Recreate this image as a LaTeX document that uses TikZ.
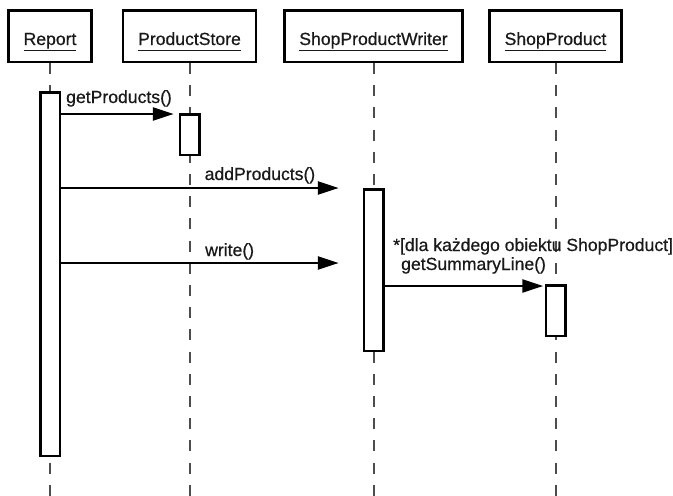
\documentclass[tikz,border=0pt]{standalone}
\usepackage{fontspec}
\setmainfont{Liberation Sans}[FakeBold=0.6]
\usetikzlibrary{arrows.meta}

\newcommand{\underobj}[1]{\setbox0\hbox{#1}\rlap{\copy0}\rule[-6pt]{\wd0}{1.3pt}}

\begin{document}
\begin{tikzpicture}[x=1pt, y=-1pt,
    every node/.style={font=\fontsize{17.6}{19}\selectfont, text=black!90},
    head/.style={draw, line width=2.5pt, inner xsep=15pt, inner ysep=0pt, minimum height=51.5pt, text height=24pt, text depth=6pt},
    act/.style={draw, line width=2.5pt, fill=white, inner sep=0pt, minimum width=19.5pt},
    life/.style={line width=2pt, black!70, dash pattern=on 11pt off 11.2pt},
    msg/.style={line width=2.5pt, -{Triangle[length=21pt, width=13pt]}},
    lbl/.style={anchor=base west, inner sep=0pt}]

            \useasboundingbox (0,0) rectangle (673,496);

            \node[head] (report) at (50,36) {\underobj{Report}};
            \node[head] (store) at (189.5,36) {\underobj{ProductStore}};
            \node[head] (writer) at (373.5,36) {\underobj{ShopProductWriter}};
            \node[head] (product) at (555.5,36) {\underobj{ShopProduct}};

            \foreach \obj in {report, store, writer, product}
                \draw[life] (\obj.south) -- (\obj.south |- 0,496);

            \node[act, minimum height=363.5pt] (reportact) at (50,274) {};
            \node[act, minimum height=40.5pt] (storeact) at (189.5,134.5) {};
            \node[act, minimum height=161.5pt] (writeract) at (373.5,270) {};
            \node[act, minimum height=50.5pt] (productact) at (555.5,310.5) {};

            \draw[msg, shorten >=4.75pt] (reportact.east |- 0,114) -- (storeact.west |- 0,114);
            \draw[msg, shorten >=23.75pt] (reportact.east |- 0,188) -- (writeract.west |- 0,188);
            \draw[msg, shorten >=23.75pt] (reportact.east |- 0,263) -- (writeract.west |- 0,263);
            \draw[msg, shorten >=1.25pt] (writeract.east |- 0,286) -- (productact.west |- 0,286);

            \node[lbl] (getlbl) at (66,103) {getProducts()};
            \node[lbl] (addlbl) at (204.5,180) {addProducts()};
            \node[lbl] (writelbl) at (205,256) {write()};
            \node[lbl] (looplbl) at (393,251) {*[dla każdego obiektu ShopProduct]};
            \node[lbl] (sumlbl) at (401,270) {getSummaryLine()};

\end{tikzpicture}
\end{document}
